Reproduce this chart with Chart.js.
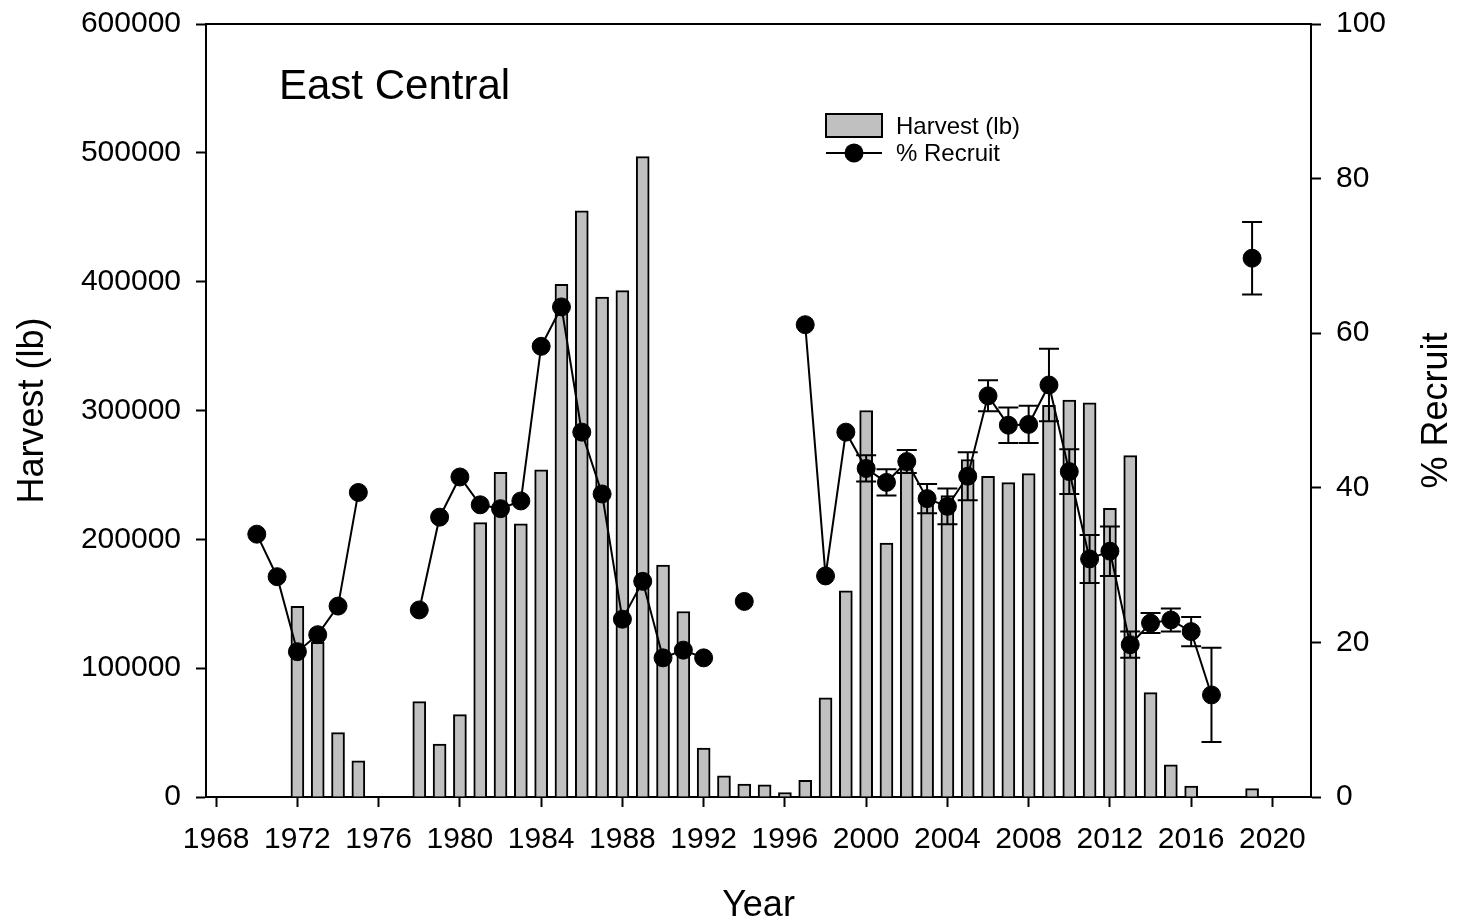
<!DOCTYPE html>
<html>
<head>
<meta charset="utf-8">
<title>East Central</title>
<script src="https://cdn.jsdelivr.net/npm/chart.js@4.4.0/dist/chart.umd.min.js"></script>
<style>
  html, body { margin: 0; padding: 0; background: #fff; }
  #wrap { width: 1459px; height: 922px; }
</style>
</head>
<body>
<div id="wrap"><canvas id="harvestCanvas" width="1459" height="922"></canvas></div>
<script>
// datos
const years = [1970, 1971, 1972, 1973, 1974, 1975, 1976, 1977, 1978, 1979,
               1980, 1981, 1982, 1983, 1984, 1985, 1986, 1987, 1988, 1989,
               1990, 1991, 1992, 1993, 1994, 1995, 1996, 1997, 1998, 1999,
               2000, 2001, 2002, 2003, 2004, 2005, 2006, 2007, 2008, 2009,
               2010, 2011, 2012, 2013, 2014, 2015, 2016, 2017, 2018, 2019];

// harvest (lb)
const harvest = [null, null, 148000, 120000, 50000, 28000, null, null, 74000, 41000,
                 64000, 213000, 252000, 212000, 254000, 398000, 455000, 388000, 393000, 497000,
                 180000, 144000, 38000, 16500, 10000, 9500, 3500, 13000, 77000, 160000,
                 300000, 197000, 255000, 230000, 234000, 262000, 249000, 244000, 251000, 304000,
                 308000, 306000, 224000, 265000, 81000, 25000, 8500, null, null, 6500];

// % recruit
const recruit = [34.0, 28.5, 18.8, 21.0, 24.7, 39.4, null, null, 24.2, 36.2,
                 41.4, 37.8, 37.3, 38.3, 58.3, 63.4, 47.2, 39.2, 23.0, 27.9,
                 18.0, 19.0, 18.0, null, 25.3, null, null, 61.1, 28.6, 47.2,
                 42.5, 40.7, 43.4, 38.6, 37.6, 41.5, 51.9, 48.1, 48.2, 53.3,
                 42.1, 30.8, 31.8, 19.7, 22.5, 22.9, 21.4, 13.2, null, 69.7];

// error (+/-)
const recruitErr = [null, null, null, null, null, null, null, null, null, null,
                    null, null, null, null, null, null, null, null, null, null,
                    null, null, null, null, null, null, null, null, null, null,
                    1.7, 1.7, 1.5, 1.9, 2.3, 3.1, 2.0, 2.3, 2.4, 4.7,
                    2.9, 3.1, 3.2, 1.7, 1.3, 1.5, 1.9, 6.1, null, 4.7];

// ticks
const xTicks = [1968, 1972, 1976, 1980, 1984, 1988, 1992, 1996, 2000, 2004, 2008, 2012, 2016, 2020];
const harvestTicks = [0, 100000, 200000, 300000, 400000, 500000, 600000];
const recruitTicks = [0, 20, 40, 60, 80, 100];

const FONT = '"Liberation Sans", Arial, Helvetica, sans-serif';
const GRIS = '#c0c0c0';

const barData = [];
years.forEach((yr, i) => {
    if (harvest[i] !== null) barData.push({ x: yr, y: harvest[i] });
});
const lineData = years.map((yr, i) => ({ x: yr, y: recruit[i] }));

//error bars
const errorBars = {
    id: 'errorBars',
    afterDatasetsDraw(chart) {
        const xs = chart.scales.x;
        const ys = chart.scales.y1;
        const c = chart.ctx;
        c.save();
        c.strokeStyle = '#000';
        c.lineWidth = 2;
        years.forEach((yr, i) => {
            const e = recruitErr[i];
            if (e === null || recruit[i] === null) return;
            const px = xs.getPixelForValue(yr);
            const top = ys.getPixelForValue(recruit[i] + e);
            const bot = ys.getPixelForValue(recruit[i] - e);
            c.beginPath();
            c.moveTo(px, top); c.lineTo(px, bot);
            c.moveTo(px - 10, top); c.lineTo(px + 10, top);
            c.moveTo(px - 10, bot); c.lineTo(px + 10, bot);
            c.stroke();
        });
        c.restore();
    }
};

// marco, titulo, leyenda
const extras = {
    id: 'extras',
    afterDraw(chart) {
        const c = chart.ctx;
        const a = chart.chartArea;
        c.save();

        // top line
        c.strokeStyle = '#000';
        c.lineWidth = 2;
        c.beginPath();
        c.moveTo(a.left - 1, a.top);
        c.lineTo(a.right + 1, a.top);
        c.stroke();

        c.fillStyle = '#000';
        c.font = '42px ' + FONT;
        c.textAlign = 'left';
        c.textBaseline = 'alphabetic';
        c.fillText('East Central', a.left + 73, a.top + 75);

        // legend
        const lx = 826, ly = 114;
        c.fillStyle = GRIS;
        c.fillRect(lx, ly, 56, 23);
        c.lineWidth = 2;
        c.strokeRect(lx, ly, 56, 23);
        c.beginPath();
        c.moveTo(lx, ly + 39);
        c.lineTo(lx + 56, ly + 39);
        c.stroke();
        c.fillStyle = '#000';
        c.beginPath();
        c.arc(lx + 28, ly + 39, 9.5, 0, Math.PI * 2);
        c.fill();
        c.font = '24px ' + FONT;
        c.fillText('Harvest (lb)', lx + 70, ly + 20);
        c.fillText('% Recruit', lx + 70, ly + 47);

        // right title
        c.translate(1437, (a.top + a.bottom) / 2);
        c.rotate(-Math.PI / 2);
        c.font = '36px ' + FONT;
        c.textAlign = 'center';
        c.textBaseline = 'middle';
        c.fillText('% Recruit', 0, 0);
        c.restore();
    }
};

const ctx = document.getElementById('harvestCanvas').getContext('2d');

const config = {
    type: 'bar',
    data: {
        datasets: [
            {
                type: 'bar',
                label: 'Harvest (lb)',
                data: barData,
                xAxisID: 'x',
                yAxisID: 'y',
                backgroundColor: GRIS,
                borderColor: '#000',
                borderWidth: 2,
                barThickness: 13,
                order: 2,
            },
            {
                type: 'line',
                label: '% Recruit',
                data: lineData,
                xAxisID: 'x',
                yAxisID: 'y1',
                borderColor: '#000',
                borderWidth: 2,
                pointRadius: 9,
                pointBackgroundColor: '#000',
                pointBorderColor: '#000',
                pointBorderWidth: 1,
                spanGaps: false,
                tension: 0,
                order: 1,
            },
        ],
    },
    options: {
        responsive: false,
        animation: false,
        events: [],
        layout: { padding: { top: 24, left: 0, right: 0, bottom: 0 } },
        plugins: { legend: { display: false }, tooltip: { enabled: false } },
        scales: {
            x: {
                type: 'linear',
                position: 'bottom',
                min: 1967.5,
                max: 2021.9,
                offset: false,
                afterBuildTicks: (s) => { s.ticks = xTicks.map(v => ({ value: v })); },
                afterFit: (s) => { s.height = 125; },
                ticks: {
                    color: '#000',
                    font: { family: FONT, size: 30 },
                    padding: 15,
                    maxRotation: 0,
                    autoSkip: false,
                    callback: (v) => String(v),
                },
                grid: { drawOnChartArea: false, offset: false, tickLength: 10, tickWidth: 2, tickColor: '#000' },
                border: { color: '#000', width: 2 },
                title: { display: true, text: 'Year', color: '#000', font: { family: FONT, size: 36, lineHeight: 1 }, padding: { top: 0, bottom: -2 } },
            },
            y: {
                type: 'linear',
                position: 'left',
                min: 0,
                max: 600000,
                afterBuildTicks: (s) => { s.ticks = harvestTicks.map(v => ({ value: v })); },
                afterFit: (s) => { s.width = 206; s.paddingTop = 0; s.paddingBottom = 0; },
                ticks: {
                    color: '#000',
                    font: { family: FONT, size: 30 },
                    padding: 15,
                    callback: (v) => String(v),
                },
                grid: { drawOnChartArea: false, tickLength: 10, tickWidth: 2, tickColor: '#000' },
                border: { color: '#000', width: 2 },
                title: { display: true, text: 'Harvest (lb)', color: '#000', font: { family: FONT, size: 36, lineHeight: 1 }, padding: { top: 15, bottom: 0 } },
            },
            y1: {
                type: 'linear',
                position: 'right',
                min: 0,
                max: 100,
                afterBuildTicks: (s) => { s.ticks = recruitTicks.map(v => ({ value: v })); },
                afterFit: (s) => { s.width = 148; s.paddingTop = 0; s.paddingBottom = 0; },
                ticks: {
                    color: '#000',
                    font: { family: FONT, size: 30 },
                    padding: 15,
                    callback: (v) => String(v),
                },
                grid: { drawOnChartArea: false, tickLength: 10, tickWidth: 2, tickColor: '#000' },
                border: { color: '#000', width: 2 },
            },
        },
    },
    plugins: [errorBars, extras],
};

const myChart = new Chart(ctx, config);
</script>
</body>
</html>
